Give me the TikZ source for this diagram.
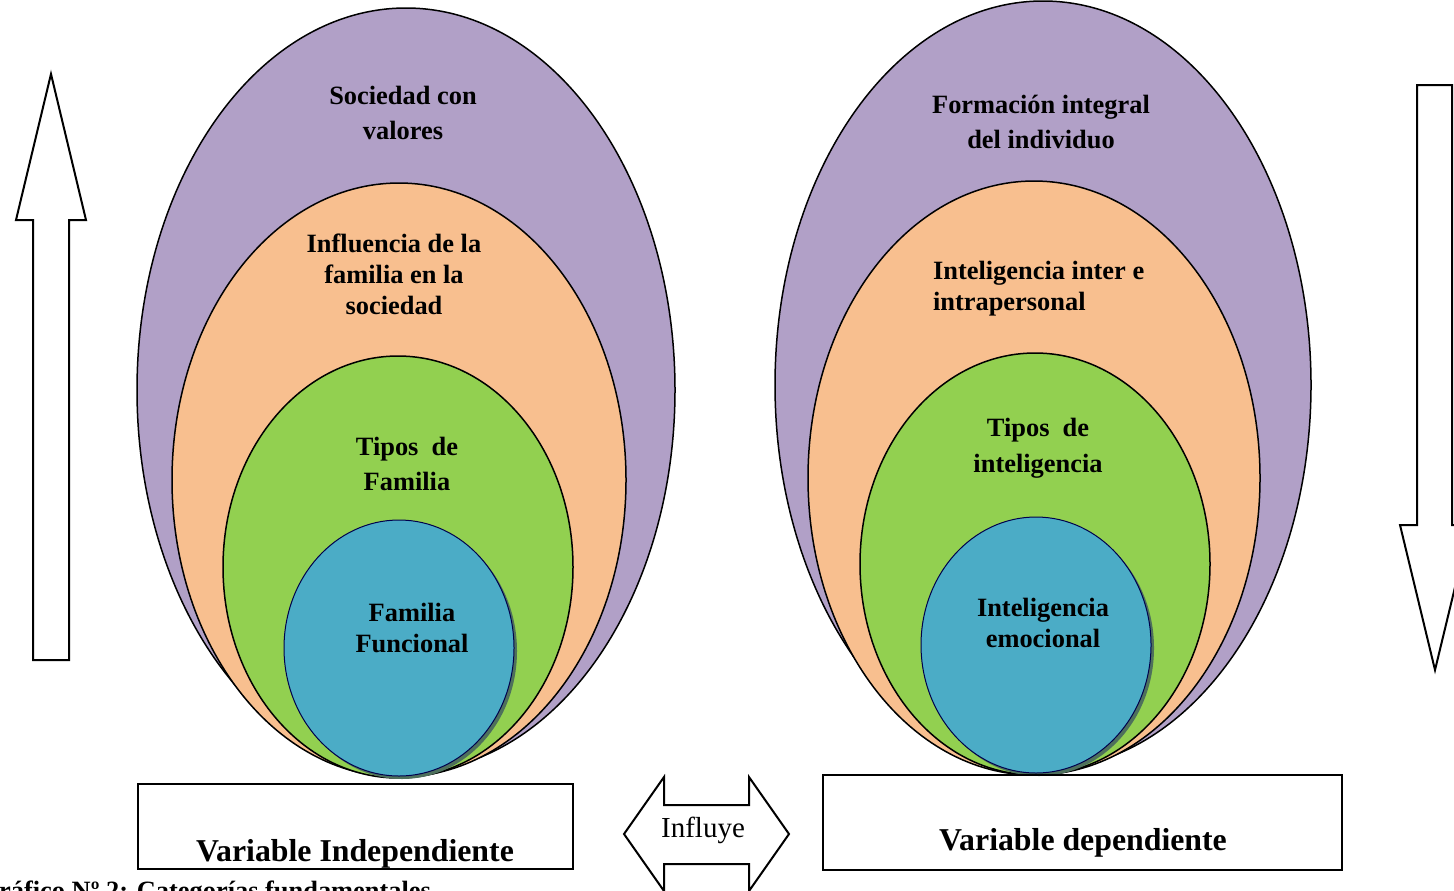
\documentclass[tikz,border=0pt]{standalone}
\usepackage{fontspec}
\setmainfont{Liberation Serif}
\usetikzlibrary{positioning}

\definecolor{lila}{RGB}{177,160,199}
\definecolor{naranja}{RGB}{248,191,143}
\definecolor{verde}{RGB}{146,208,80}
\definecolor{celeste}{RGB}{75,172,198}
\definecolor{sombra}{RGB}{78,112,92}

\tikzset{
    capa/.style={draw=black, line width=0.75pt},
    nucleo/.style={draw=black!70!blue, line width=0.5pt, fill=celeste},
    txt/.style={font=\bfseries\fontsize{13.2}{15.5}\selectfont, align=center},
    txtalto/.style={font=\bfseries\fontsize{13.2}{17.8}\selectfont, align=center},
    varbox/.style={draw=black, line width=1pt},
    vartxt/.style={font=\bfseries\fontsize{15.9}{18}\selectfont, anchor=base},
    flecha/.style={draw=black, line width=1pt, fill=white}
}

\begin{document}
\begin{tikzpicture}[x=0.5pt, y=-0.5pt]
    \useasboundingbox (0,0) rectangle (1454,890);

    % variable independiente
    \filldraw[capa, fill=lila] (406,390) ellipse (269 and 382);
    \filldraw[capa, fill=naranja] (399,480) ellipse (227 and 297);
    \filldraw[capa, fill=verde] (398,567) ellipse (175 and 211);
    \fill[sombra] (402,651) ellipse (115 and 128);
    \filldraw[nucleo] (399,648) ellipse (115 and 128);

    \node[txtalto] (sociedad) at (403,113) {Sociedad con\\valores};
    \node[txt] (influencia) at (394,274) {Influencia de la\\familia en la\\sociedad};
    \node[txtalto] (tiposfam) at (407,464) {Tipos\ \ de\\Familia};
    \node[txt] (funcional) at (412,628) {Familia\\Funcional};

    % variable dependiente
    \filldraw[capa, fill=lila] (1043,385) ellipse (268 and 384);
    \filldraw[capa, fill=naranja] (1034,478) ellipse (226 and 297);
    \filldraw[capa, fill=verde] (1035,564) ellipse (175 and 211);
    \fill[sombra] (1039,648) ellipse (115 and 128);
    \filldraw[nucleo] (1036,645) ellipse (115 and 128);

    \node[txtalto] (formacion) at (1041,122) {Formación integral\\del individuo};
    \node[txt, align=left, anchor=west] (interintra) at (926,289) {Inteligencia inter e\\intrapersonal};
    \node[txtalto] (tiposint) at (1038,448) {Tipos\ \ de\\inteligencia};
    \node[txt] (emocional) at (1043,623) {Inteligencia\\emocional};

    % cajas de variables
    \draw[varbox] (138,784) rectangle (573,869);
    \node[vartxt] (vi) at (355,861) {Variable Independiente};
    \draw[varbox] (823,775) rectangle (1342,870);
    \node[vartxt] (vd) at (1083,850) {Variable dependiente};

    % flechas
    \draw[flecha] (51,74) -- (86,220) -- (69,220) -- (69,660) -- (33,660) -- (33,220) -- (16,220) -- cycle;
    \draw[flecha] (1435,670) -- (1470,525) -- (1452,525) -- (1452,85) -- (1417,85) -- (1417,525) -- (1400,525) -- cycle;

    \draw[flecha] (624,834) -- (664,777) -- (664,805) -- (749,805) -- (749,777) -- (789,834)
        -- (749,891) -- (749,864) -- (664,864) -- (664,891) -- cycle;
    \node[font=\fontsize{14.5}{16}\selectfont] (influye) at (703,830) {Influye};

    % pie
    \node[font=\bfseries\fontsize{13.2}{15}\selectfont, anchor=base east] (pie) at (438,899) {Gráfico Nº 2: Categorías fundamentales};
\end{tikzpicture}
\end{document}
